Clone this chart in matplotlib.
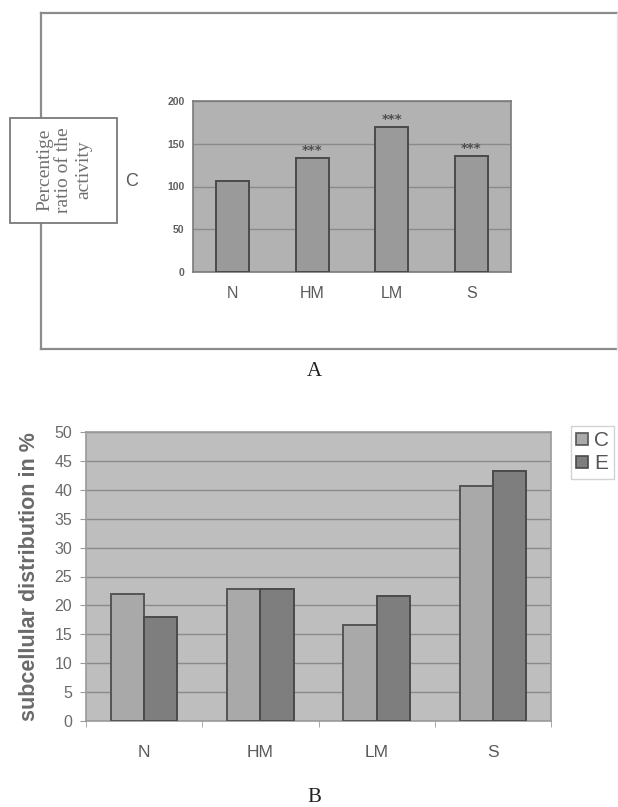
import matplotlib
matplotlib.use("Agg")
import matplotlib.pyplot as plt
from matplotlib.patches import Rectangle, Patch
from matplotlib.lines import Line2D
import numpy as np

# ---- data ----
categories = ["N", "HM", "LM", "S"]
activity_C = [107, 133, 170, 136]
significance = ["", "***", "***", "***"]
yticks_A = [0, 50, 100, 150, 200]

series_names = ["C", "E"]
distribution_C = [22.0, 22.8, 16.6, 40.7]
distribution_E = [18.0, 22.8, 21.6, 43.3]
yticks_B = [0, 5, 10, 15, 20, 25, 30, 35, 40, 45, 50]

W, H = 618, 807
fig = plt.figure(figsize=(W / 100, H / 100), dpi=100)
fig.patch.set_facecolor("white")


def fx(x):
    return x / W


def fy(y):
    return 1 - y / H


def axes_px(x0, y0, x1, y1):
    return fig.add_axes([fx(x0), fy(y1), (x1 - x0) / W, (y1 - y0) / H])


txt_gray = "#5a5a5a"

# ---- panel A frame ----
frame_col = "#8c8c8c"
fig.add_artist(Line2D([fx(41), fx(618)], [fy(13), fy(13)], color=frame_col, lw=1.6))
fig.add_artist(Line2D([fx(41), fx(41)], [fy(13), fy(349)], color=frame_col, lw=1.6))
fig.add_artist(Line2D([fx(41), fx(618)], [fy(349), fy(349)], color=frame_col, lw=1.6))
fig.add_artist(Line2D([fx(617), fx(617)], [fy(13), fy(349)], color="#e4e4e4", lw=1.0))

# label box
fig.add_artist(Rectangle((fx(10), fy(223)), (117 - 10) / W, (223 - 118) / H,
                         facecolor="white", edgecolor="#7a7a7a", lw=1.3,
                         transform=fig.transFigure, zorder=3))
fig.text(fx(64), fy(170), "Percentige\nratio of the\nactivity", rotation=90,
         ha="center", va="center", multialignment="center",
         family="Liberation Serif", fontsize=14, color="#707070",
         linespacing=1.2, zorder=4)
fig.text(fx(132), fy(182), "C", ha="center", va="center", fontsize=13,
         family="Liberation Sans", color=txt_gray)

# ---- panel A axes ----
axA = axes_px(193, 101, 511, 272)
axA.set_facecolor("#b2b2b2")
x = np.arange(len(categories))
axA.bar(x, activity_C, width=0.41, color="#9a9a9a", edgecolor="#4a4a4a",
        linewidth=1.4, zorder=3)
for xi, v, s in zip(x, activity_C, significance):
    if s:
        axA.text(xi, v + 1, s, ha="center", va="bottom", fontsize=9.5,
                 fontweight="bold", color="#505050", zorder=4)
axA.set_xlim(-0.5, len(categories) - 0.5)
axA.set_ylim(0, 200)
axA.set_yticks(yticks_A)
axA.set_yticklabels([str(t) for t in yticks_A], fontsize=7.5, fontweight="bold",
                    color="#606060", family="Liberation Sans")
axA.set_xticks(x)
axA.set_xticklabels(categories, fontsize=11.5, color=txt_gray, family="Liberation Sans")
axA.tick_params(axis="x", length=0, pad=10)
axA.tick_params(axis="y", length=0, pad=6)
axA.yaxis.grid(True, color="#8a8a8a", lw=1.0, zorder=1)
axA.set_axisbelow(True)
for sp in axA.spines.values():
    sp.set_color("#7a7a7a")
    sp.set_linewidth(1.2)

fig.text(fx(314), fy(371), "A", ha="center", va="center",
         family="Liberation Serif", fontsize=15, color="#222222")

# ---- panel B axes ----
axB = axes_px(86, 432, 551, 721)
axB.set_facecolor("#bebebe")
w = 0.285
axB.bar(x - w / 2, distribution_C, width=w, color="#a9a9a9", edgecolor="#555555",
        linewidth=1.4, zorder=3, label=series_names[0])
axB.bar(x + w / 2, distribution_E, width=w, color="#7e7e7e", edgecolor="#4a4a4a",
        linewidth=1.4, zorder=3, label=series_names[1])
axB.set_xlim(-0.5, len(categories) - 0.5)
axB.set_ylim(0, 50)
axB.set_yticks(yticks_B)
axB.set_yticklabels([str(t) for t in yticks_B], fontsize=11.5, color="#6a6a6a",
                    family="Liberation Sans")
axB.set_xticks(x)
axB.set_xticklabels(categories, fontsize=12.5, color=txt_gray, family="Liberation Sans")
axB.set_xticks(np.arange(-0.5, len(categories)), minor=True)
axB.tick_params(axis="x", which="major", length=0, pad=17)
axB.tick_params(axis="x", which="minor", length=4, color="#9a9a9a")
axB.tick_params(axis="y", length=4, color="#9a9a9a", pad=6)
axB.yaxis.grid(True, color="#8a8a8a", lw=1.0, zorder=1)
axB.set_axisbelow(True)
for sp in axB.spines.values():
    sp.set_color("#9a9a9a")
    sp.set_linewidth(1.2)
axB.set_ylabel("subcellular distribution in %", fontsize=15.5, fontweight="bold",
               color="#6a6a6a", family="Liberation Sans")
axB.yaxis.set_label_coords(-0.099, 0.5)

handles = [Patch(facecolor="#a9a9a9", edgecolor="#555555", lw=1.2),
           Patch(facecolor="#7e7e7e", edgecolor="#4a4a4a", lw=1.2)]
leg = axB.legend(handles, series_names, loc="upper left",
                 bbox_to_anchor=(fx(571), fy(426)), bbox_transform=fig.transFigure,
                 fontsize=15, frameon=True, fancybox=False, edgecolor="#c8c8c8",
                 handlelength=0.55, handleheight=0.55, handletextpad=0.3,
                 borderpad=0.25, labelspacing=0.2, borderaxespad=0)
for t in leg.get_texts():
    t.set_color("#555555")
    t.set_family("Liberation Sans")
leg.get_frame().set_linewidth(1.0)

fig.text(fx(314), fy(797), "B", ha="center", va="center",
         family="Liberation Serif", fontsize=15, color="#222222")

fig.savefig("out.png", dpi=100, facecolor="white")
